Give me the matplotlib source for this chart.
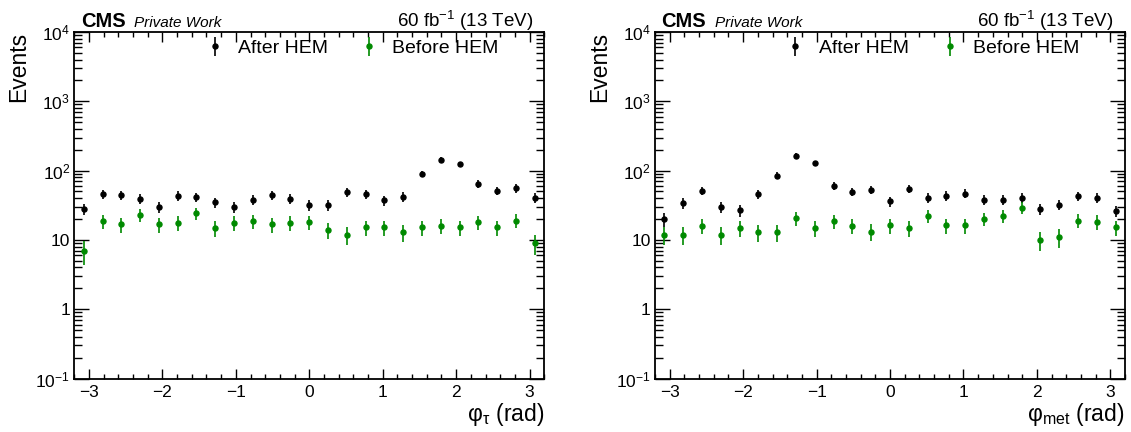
import numpy as np
import matplotlib
matplotlib.use("Agg")
import matplotlib.pyplot as plt
from matplotlib.ticker import FuncFormatter, LogLocator, MultipleLocator, NullFormatter

plt.rcParams["font.family"] = ["Liberation Sans", "DejaVu Sans"]
plt.rcParams["mathtext.fontset"] = "custom"
plt.rcParams["mathtext.rm"] = "Liberation Sans"
plt.rcParams["mathtext.it"] = "Liberation Sans:italic"
plt.rcParams["mathtext.bf"] = "Liberation Sans:bold"

# 25 bins between -3.2 and 3.2
bin_edges = np.linspace(-3.2, 3.2, 26)
bin_centers = 0.5 * (bin_edges[1:] + bin_edges[:-1])

tau_after = [28, 46, 44.6, 39, 29.6, 43.6, 41.7, 34.9, 29.9, 38.2, 44, 39, 31.5,
             31.6, 49.2, 45.6, 37.3, 42.2, 89.5, 144, 123, 65, 50.9, 55.6, 40.4]
tau_before = [7.0, 18.6, 16.8, 22.7, 16.8, 17.8, 24.2, 14.7, 17.8, 18.8, 16.8, 17.8, 18,
              13.9, 11.9, 15.1, 15.1, 13.0, 15.1, 16.1, 15.1, 18, 15.1, 19.0, 8.95]

met_after = [19.9, 33.8, 50.9, 29.9, 26.8, 46, 84.7, 164, 127.6, 60.1, 49.8, 53, 36.1,
             55, 40.8, 43.6, 46.6, 38.2, 38.2, 40.8, 28, 32.3, 43.1, 40.4, 26.2]
met_before = [11.8, 11.8, 16.1, 11.8, 14.7, 12.9, 12.9, 20.5, 14.7, 18.8, 16.1, 13.2, 16.3,
              14.9, 22.2, 16.3, 16.3, 20.1, 22.2, 29.3, 10, 10.9, 19, 18.4, 15.1]

panels = [
    (tau_after, tau_before, r"$\mathregular{φ_{τ}}$ (rad)"),
    (met_after, met_before, r"$\mathregular{φ_{met}}$ (rad)"),
]


def log_label(v, pos):
    if np.isclose(v, 1):
        return "1"
    if np.isclose(v, 10):
        return "10"
    return r"$\mathregular{10^{%d}}$" % int(round(np.log10(v)))


fig = plt.figure(figsize=(11.31, 4.32), dpi=100)
ax_lefts = [74.3 / 1131, 655 / 1131]
ax_w = 470 / 1131
ax_b = (432 - 378.5) / 432
ax_h = 346.5 / 432

for left, (after, before, xlabel) in zip(ax_lefts, panels):
    ax = fig.add_axes([left, ax_b, ax_w, ax_h])
    after = np.array(after)
    before = np.array(before)
    ax.errorbar(bin_centers, after, yerr=np.sqrt(after), fmt="o", color="black",
                ms=3.6, elinewidth=1.2, capsize=0, label="After HEM")
    ax.errorbar(bin_centers, before, yerr=np.sqrt(before), fmt="o", color="#008a00",
                ms=3.6, elinewidth=1.2, capsize=0, label="Before HEM")

    ax.set_yscale("log")
    ax.set_ylim(0.1, 1e4)
    ax.set_xlim(-3.2, 3.2)

    ax.xaxis.set_major_locator(MultipleLocator(1))
    ax.xaxis.set_minor_locator(MultipleLocator(0.2))
    ax.yaxis.set_major_locator(LogLocator(base=10, numticks=10))
    ax.yaxis.set_minor_locator(LogLocator(base=10, subs=np.arange(2, 10), numticks=20))
    ax.yaxis.set_major_formatter(FuncFormatter(log_label))
    ax.yaxis.set_minor_formatter(NullFormatter())

    ax.tick_params(which="both", direction="in", top=True, right=True, labelsize=12.5, width=1)
    ax.tick_params(axis="x", which="major", length=7.2, pad=5)
    ax.tick_params(axis="x", which="minor", length=3.6)
    ax.tick_params(axis="y", which="major", length=10.8, pad=3)
    ax.tick_params(axis="y", which="minor", length=5.5)
    for sp in ax.spines.values():
        sp.set_linewidth(1.3)

    ax.set_ylabel("Events", fontsize=16.5, loc="top")
    ax.yaxis.set_label_coords(-0.093, 1.0)
    ax.set_xlabel(xlabel, fontsize=16.5, loc="right")
    ax.xaxis.set_label_coords(1.0, -0.066)

    ax.text(0.0136, 1.015, "CMS", transform=ax.transAxes, fontsize=14.5,
            fontweight="bold", va="baseline", ha="left")
    ax.text(0.127, 1.015, "Private Work", transform=ax.transAxes, fontsize=11,
            style="italic", va="baseline", ha="left")
    ax.text(0.976, 1.015, r"60 fb$^{\mathregular{-1}}$ (13 TeV)", transform=ax.transAxes,
            fontsize=13.5, va="baseline", ha="right")

    ax.legend(loc="center left", bbox_to_anchor=(0.278, 0.953), ncol=2, frameon=False,
              fontsize=14, handlelength=1.0, handletextpad=0.7, columnspacing=1.6,
              borderpad=0, borderaxespad=0)

fig.savefig("out.png", dpi=100)
